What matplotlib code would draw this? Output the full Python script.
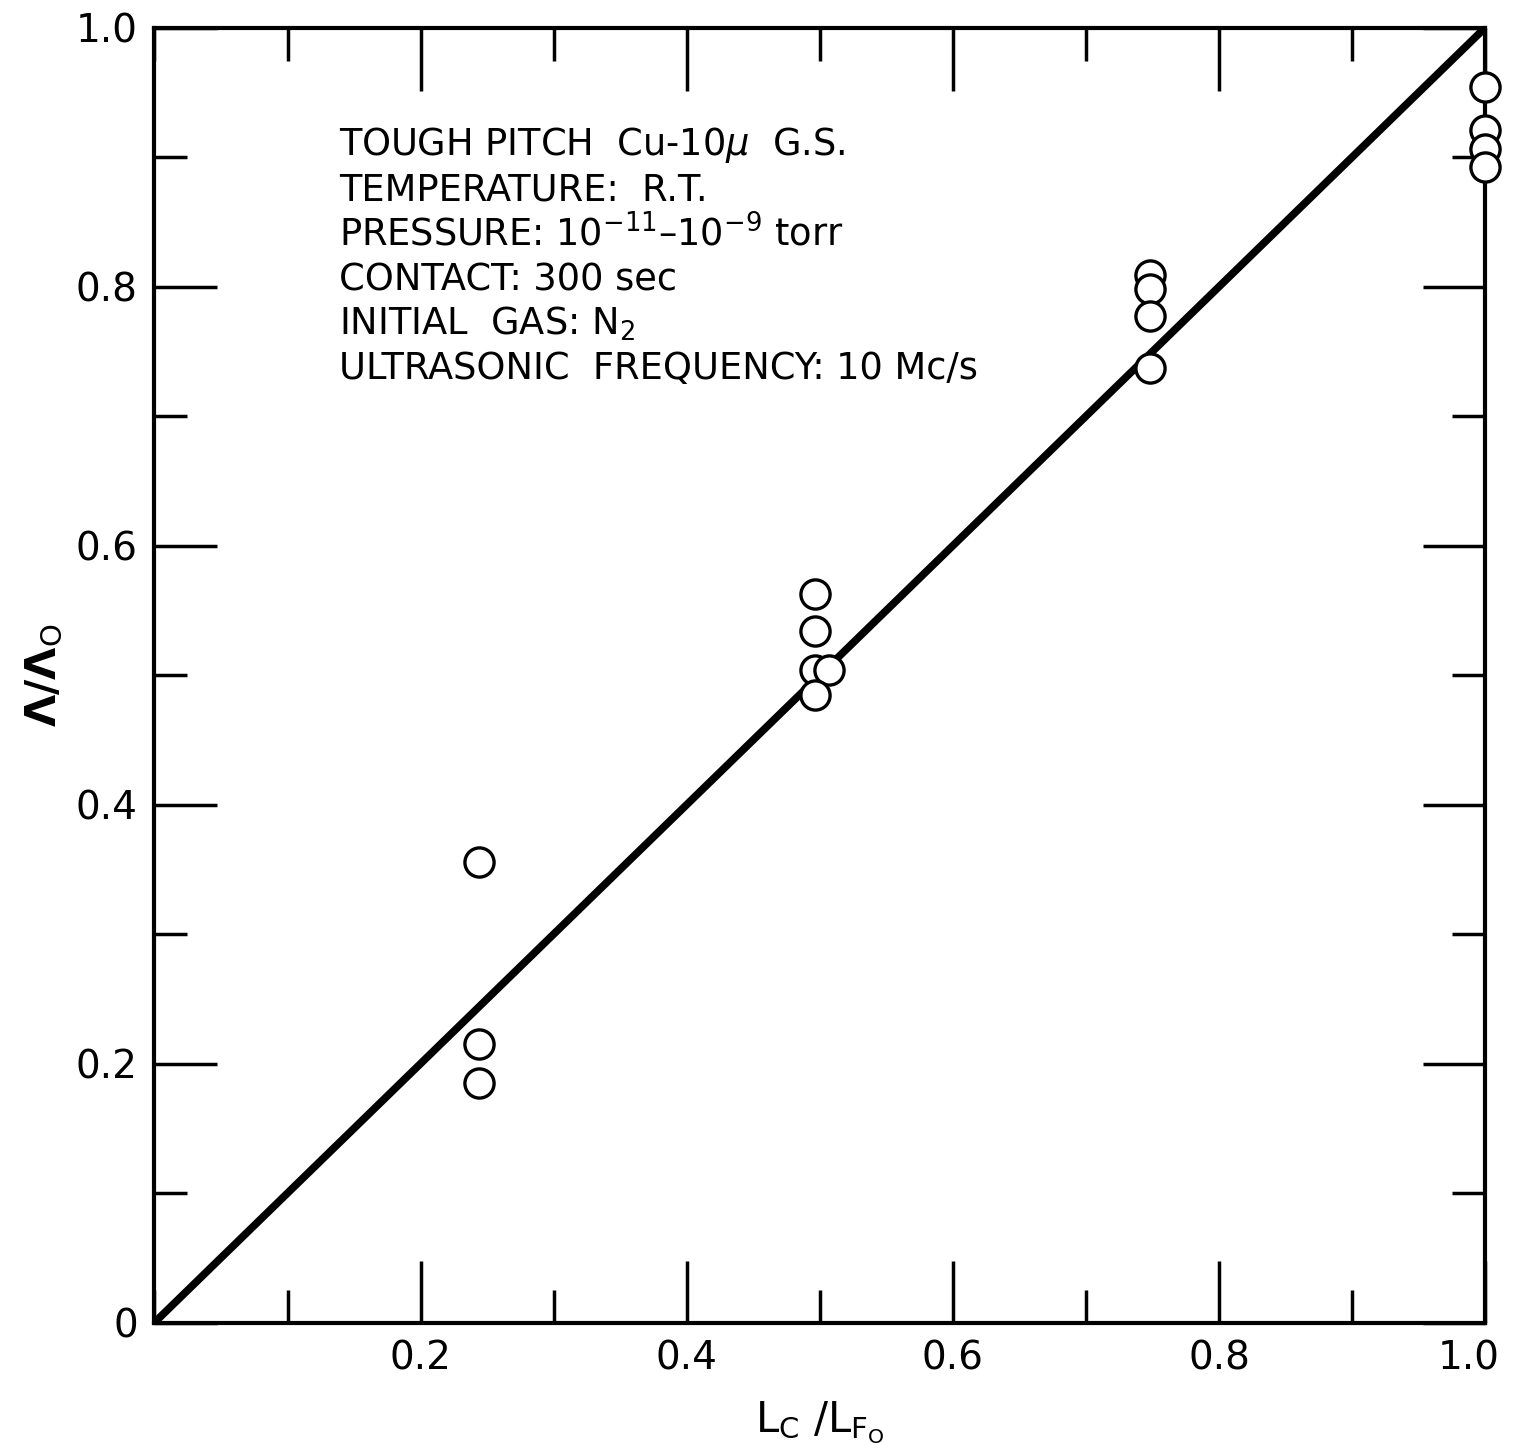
import matplotlib
matplotlib.use("Agg")
import matplotlib.pyplot as plt
from matplotlib.ticker import MultipleLocator
from matplotlib.transforms import ScaledTranslation

# measured attenuation ratio vs contact/friction length ratio
lc_ratio = [0.244, 0.244, 0.244,
            0.496, 0.496, 0.496, 0.507, 0.496,
            0.748, 0.748, 0.748, 0.748,
            1.00, 1.00, 1.00, 1.00]
atten_ratio = [0.356, 0.215, 0.185,
               0.563, 0.534, 0.504, 0.504, 0.485,
               0.809, 0.798, 0.777, 0.737,
               0.954, 0.921, 0.906, 0.892]

# theoretical proportionality line
line_x = [0.0, 1.0]
line_y = [0.0, 1.0]

x_ticks = [0.2, 0.4, 0.6, 0.8, 1.0]
x_ticklabels = ["0.2", "0.4", "0.6", "0.8", "1.0"]
y_ticks = [0.0, 0.2, 0.4, 0.6, 0.8, 1.0]
y_ticklabels = ["0", "0.2", "0.4", "0.6", "0.8", "1.0"]

notes = [
    "TOUGH PITCH  Cu-10$\\mu$  G.S.",
    "TEMPERATURE:  R.T.",
    "PRESSURE: 10$^{-11}$\u201310$^{-9}$ torr",
    "CONTACT: 300 sec",
    "INITIAL  GAS: N$_{2}$",
    "ULTRASONIC  FREQUENCY: 10 Mc/s",
]

plt.rcParams["font.family"] = ["DejaVu Sans"]
plt.rcParams["mathtext.fontset"] = "dejavusans"

fig = plt.figure(figsize=(15.14, 14.55), dpi=100)
ax = fig.add_axes([0.102, 0.091, 0.879, 0.890])

ax.plot(line_x, line_y, color="black", linewidth=5.5, solid_capstyle="butt", zorder=2)
ax.plot(lc_ratio, atten_ratio, linestyle="none", marker="o", markersize=21,
        markerfacecolor="white", markeredgecolor="black", markeredgewidth=2.4,
        zorder=3, clip_on=False)

ax.set_xlim(0, 1)
ax.set_ylim(0, 1)

for side in ax.spines.values():
    side.set_linewidth(3)

ax.set_xticks(x_ticks)
ax.set_xticklabels(x_ticklabels)
ax.set_yticks(y_ticks)
ax.set_yticklabels(y_ticklabels)
ax.xaxis.set_minor_locator(MultipleLocator(0.1))
ax.yaxis.set_minor_locator(MultipleLocator(0.1))
ax.tick_params(which="major", direction="in", length=45, width=2.5,
               top=True, right=True, labelsize=28, pad=12)
ax.tick_params(which="minor", direction="in", length=24, width=2.5,
               top=True, right=True)

# pull the last x label in so it stays on the page
last = ax.get_xticklabels()[-1]
last.set_transform(last.get_transform() + ScaledTranslation(-12 / 72, 0, fig.dpi_scale_trans))

ax.set_xlabel("L$_\\mathrm{C}$ /L$_{\\mathrm{F}_\\mathrm{O}}$", fontsize=30, labelpad=16)
ax.set_ylabel("\u039b/\u039b$_\\mathrm{O}$", fontsize=30, labelpad=8,
              fontweight="bold")

for i, line in enumerate(notes):
    ax.text(0.139, 0.909 - i * 0.0345, line, transform=ax.transAxes,
            fontsize=26.5, va="center", ha="left")

fig.savefig("out.png", dpi=100, facecolor="white")
